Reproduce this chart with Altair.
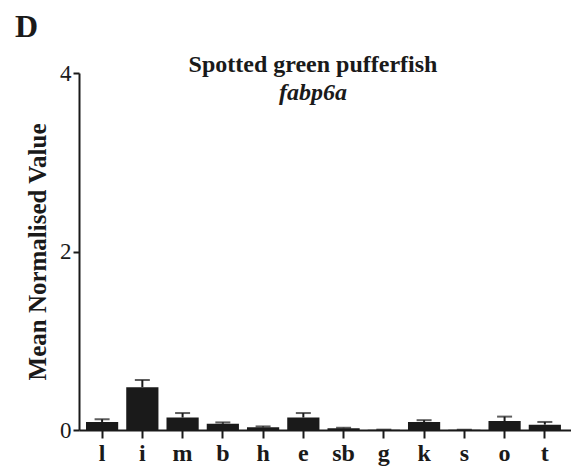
import altair as alt
import pandas as pd

tissues = ["l", "i", "m", "b", "h", "e", "sb", "g", "k", "s", "o", "t"]
means = [0.09, 0.48, 0.14, 0.07, 0.03, 0.14, 0.02, 0.004, 0.09, 0.003, 0.10, 0.06]
sems = [0.03, 0.08, 0.05, 0.015, 0.01, 0.05, 0.005, 0.0, 0.02, 0.0, 0.05, 0.03]

df = pd.DataFrame({"tissue": tissues, "mean": means, "sem": sems})
df["upper"] = df["mean"] + df["sem"]

FONT = "Liberation Serif"
W, H = 492, 357

xscale = alt.Scale(domain=tissues, paddingInner=0.2, paddingOuter=0.212, align=0.41)
yscale = alt.Scale(domain=[0, 4], nice=False)

x = alt.X("tissue:N", scale=xscale, sort=tissues,
          axis=alt.Axis(title=None, labelAngle=0, labelFont=FONT, labelFontSize=24,
                        labelFontWeight="bold", labelColor="#1a1a1a", tickSize=8,
                        tickWidth=2, tickColor="#1a1a1a", domainWidth=2,
                        domainColor="#1a1a1a", labelPadding=3, grid=False))

yaxis = alt.Axis(title="Mean Normalised Value", values=[0, 2, 4], format="d",
                 labelFont=FONT, labelFontSize=23, labelColor="#1a1a1a",
                 tickSize=6, tickWidth=2, tickColor="#1a1a1a",
                 domainWidth=2, domainColor="#1a1a1a", grid=False,
                 labelPadding=2, titleFont=FONT, titleFontSize=25,
                 titleFontWeight="bold", titleColor="#1a1a1a", titlePadding=9)

base = alt.Chart(df)

bars = base.mark_bar(color="#1a1a1a").encode(
    x=x,
    y=alt.Y("mean:Q", scale=yscale, axis=yaxis),
)

err = base.mark_rule(color="#1a1a1a", strokeWidth=2).encode(
    x=x,
    y=alt.Y("mean:Q", scale=yscale, axis=yaxis),
    y2="upper:Q",
)

caps = base.mark_tick(color="#1a1a1a", thickness=2, size=15, orient="horizontal").encode(
    x=x,
    y=alt.Y("upper:Q", scale=yscale, axis=yaxis),
)

title1 = alt.Chart(pd.DataFrame({"t": ["Spotted green pufferfish"]})).mark_text(
    font=FONT, fontSize=24, fontWeight="bold", color="#1a1a1a", align="center",
    baseline="alphabetic").encode(text="t:N", x=alt.value(234), y=alt.value(-1))

title2 = alt.Chart(pd.DataFrame({"t": ["fabp6a"]})).mark_text(
    font=FONT, fontSize=24, fontWeight="bold", fontStyle="italic", color="#1a1a1a",
    align="center", baseline="alphabetic").encode(text="t:N", x=alt.value(234), y=alt.value(27))

panel = alt.Chart(pd.DataFrame({"t": ["D"]})).mark_text(
    font=FONT, fontSize=32, fontWeight="bold", color="#1a1a1a", align="left",
    baseline="alphabetic").encode(text="t:N", x=alt.value(-64), y=alt.value(-36))

chart = alt.layer(bars, err, caps, title1, title2, panel).properties(
    width=W, height=H,
    background="white",
    autosize=alt.AutoSizeParams(type="none"),
    padding={"left": 71, "top": 65, "right": 0, "bottom": 36},
).configure_view(stroke=None).configure_axis(grid=False)

chart.save("out.html", embed_options={"renderer": "svg", "actions": False})
